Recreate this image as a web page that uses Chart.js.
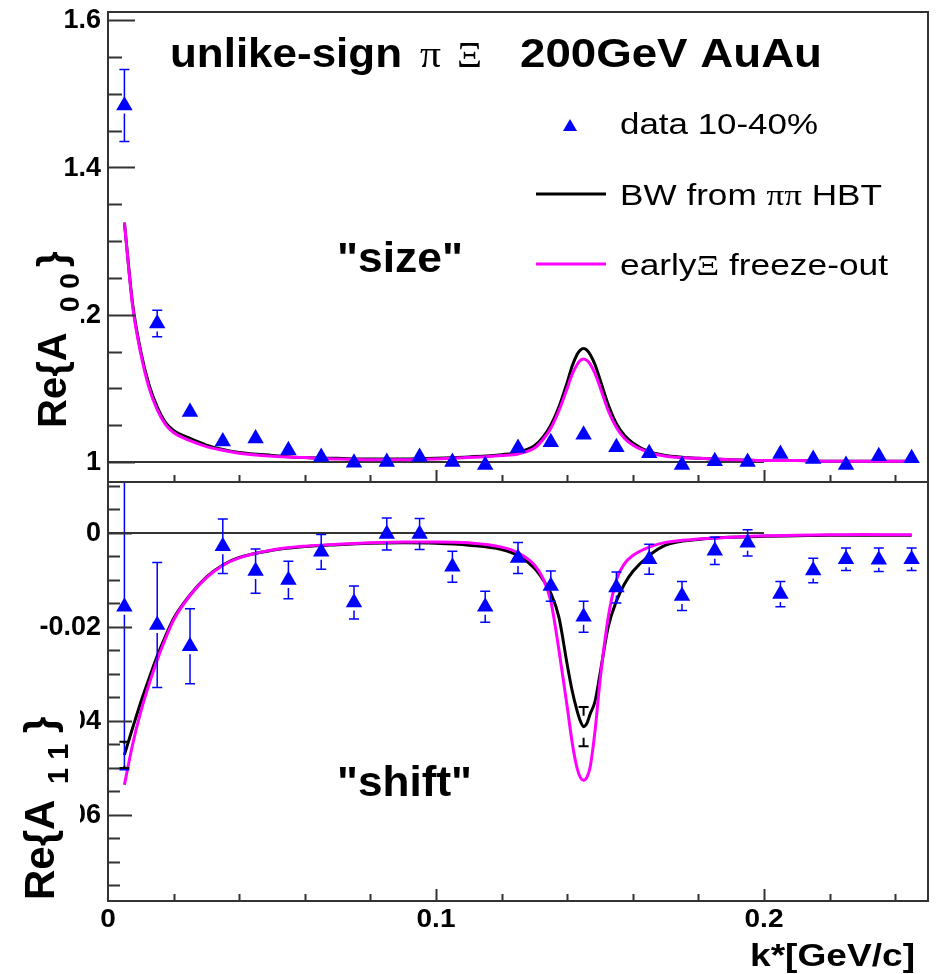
<!DOCTYPE html>
<html>
<head>
<meta charset="utf-8">
<script src="https://cdn.jsdelivr.net/npm/chart.js@4.4.1/dist/chart.umd.min.js"></script>
<style>
  body { margin: 0; background: #fff; }
  #wrap { position: relative; width: 938px; height: 974px; }
  #wrap canvas { position: absolute; left: 0; top: 0; }
</style>
</head>
<body>
<div id="wrap">
  <canvas id="top" width="938" height="974"></canvas>
  <canvas id="bottom" width="938" height="974"></canvas>
</div>
<script>
// Datos

// bins de k* (GeV/c)
const kData = [0.005, 0.015, 0.025, 0.035, 0.045, 0.055, 0.065, 0.075, 0.085, 0.095,
  0.105, 0.115, 0.125, 0.135, 0.145, 0.155, 0.165, 0.175, 0.185, 0.195,
  0.205, 0.215, 0.225, 0.235, 0.245];

// Re{A00} "size"
const a00Data = [1.484, 1.188, 1.068, 1.028, 1.032, 1.016, 1.007, 0.999, 1.000, 1.007,
  1.000, 0.996, 1.019, 1.027, 1.037, 1.020, 1.012, 0.996, 1.001, 1.000,
  1.011, 1.004, 0.996, 1.008, 1.005];
const a00Err = [0.049, 0.018, 0.006, 0.005, 0.005, 0.004, 0.004, 0.004, 0.004, 0.004,
  0.004, 0.004, 0.004, 0.004, 0.004, 0.004, 0.004, 0.004, 0.004, 0.004,
  0.004, 0.004, 0.004, 0.004, 0.004];

// Re{A11} "shift"
const a11Data = [-0.0157, -0.0196, -0.0241, -0.0028, -0.0081, -0.0100, -0.0040, -0.0148, -0.0002, -0.0002,
  -0.0072, -0.0157, -0.0053, -0.0113, -0.0178, -0.0116, -0.0056, -0.0134, -0.0038, -0.0021,
  -0.0130, -0.0080, -0.0056, -0.0057, -0.0056];
const a11Err = [0.0347, 0.0133, 0.0080, 0.0058, 0.0047, 0.0040, 0.0037, 0.0035, 0.0034, 0.0033,
  0.0033, 0.0033, 0.0033, 0.0032, 0.0033, 0.0033, 0.0032, 0.0031, 0.0029, 0.0028,
  0.0027, 0.0026, 0.0024, 0.0025, 0.0024];

// curvas del modelo
const kCurve = [0.005, 0.0075, 0.01, 0.0125, 0.015, 0.0175, 0.02, 0.025, 0.03, 0.035,
  0.04, 0.05, 0.06, 0.07, 0.08, 0.09, 0.1, 0.11, 0.12, 0.125,
  0.13, 0.1325, 0.135, 0.1375, 0.14, 0.1415, 0.143, 0.144, 0.145, 0.146,
  0.147, 0.1485, 0.15, 0.1525, 0.155, 0.1575, 0.16, 0.165, 0.17, 0.18,
  0.19, 0.2, 0.21, 0.22, 0.23, 0.245];

const a00Bw = [1.325, 1.215, 1.150, 1.105, 1.075, 1.054, 1.043, 1.032, 1.023, 1.017,
  1.013, 1.009, 1.006, 1.005, 1.004, 1.004, 1.005, 1.007, 1.010, 1.013,
  1.022, 1.033, 1.050, 1.075, 1.108, 1.130, 1.146, 1.152, 1.154, 1.152,
  1.146, 1.132, 1.112, 1.078, 1.052, 1.036, 1.026, 1.014, 1.009, 1.005,
  1.003, 1.002, 1.002, 1.001, 1.001, 1.001];
const a00Early = [1.325, 1.212, 1.147, 1.101, 1.071, 1.051, 1.040, 1.029, 1.021, 1.016,
  1.012, 1.008, 1.006, 1.004, 1.003, 1.003, 1.004, 1.006, 1.009, 1.011,
  1.019, 1.030, 1.046, 1.070, 1.100, 1.119, 1.132, 1.138, 1.140, 1.138,
  1.133, 1.120, 1.102, 1.070, 1.047, 1.032, 1.023, 1.013, 1.008, 1.005,
  1.003, 1.002, 1.002, 1.001, 1.001, 1.001];

const a11Bw = [-0.0472, -0.0415, -0.0360, -0.0310, -0.0262, -0.0220, -0.0182, -0.0132, -0.0094, -0.0068,
  -0.0052, -0.0037, -0.0029, -0.0025, -0.0022, -0.0021, -0.0022, -0.0026, -0.0035, -0.0048,
  -0.0075, -0.0098, -0.0128, -0.0180, -0.0280, -0.0335, -0.0378, -0.0400, -0.0412, -0.0405,
  -0.0385, -0.0358, -0.0300, -0.0200, -0.0145, -0.0108, -0.0082, -0.0048, -0.0026, -0.0014,
  -0.0009, -0.0007, -0.0006, -0.0005, -0.0005, -0.0005];
const a11Early = [-0.0536, -0.0450, -0.0380, -0.0322, -0.0270, -0.0225, -0.0185, -0.0133, -0.0095, -0.0069,
  -0.0053, -0.0036, -0.0028, -0.0024, -0.0021, -0.0019, -0.0019, -0.0021, -0.0030, -0.0042,
  -0.0068, -0.0095, -0.0145, -0.0250, -0.0370, -0.0445, -0.0500, -0.0520, -0.0526, -0.0520,
  -0.0498, -0.0420, -0.0315, -0.0180, -0.0100, -0.0065, -0.0048, -0.0030, -0.0020, -0.0013,
  -0.0009, -0.0006, -0.0005, -0.0004, -0.0003, -0.0004];

// barras de error de la curva BW (panel de abajo)
const bwErrK = [0.005, 0.145];
const bwErrY = [-0.0472, -0.0412];
const bwErr = [0.0028, 0.0042];

// linea de referencia
const refK = [0, 0.2];
const refTop = [1, 1];
const refBottom = [0, 0];

const labels = ['data 10-40%', 'BW from ππ HBT', 'earlyΞ freeze-out'];

// Helpers de texto
const SANS = '"Liberation Sans", Arial, sans-serif';
const SERIF = '"Liberation Serif", "Times New Roman", serif';

function runs(str) {
  const out = [];
  for (const c of str) {
    const g = /[\u0370-\u03ff]/.test(c);
    if (out.length && out[out.length - 1][1] === g) out[out.length - 1][0] += c;
    else out.push([c, g]);
  }
  return out;
}

function fontFor(greek, o) {
  if (greek) return (o.gsize || o.size) + 'px ' + SERIF;
  return (o.bold ? 'bold ' : '') + o.size + 'px ' + SANS;
}

// dibuja texto, estirado en horizontal (sx) o ajustado a un ancho
function drawStr(ctx, str, x, y, o) {
  const rs = runs(str);
  let w = 0;
  rs.forEach(r => { ctx.font = fontFor(r[1], o); w += ctx.measureText(r[0]).width; });
  const sx = o.width ? o.width / w : (o.sx || 1);
  const total = w * sx;
  let left = x;
  if (o.align === 'right') left = x - total;
  if (o.align === 'center') left = x - total / 2;
  ctx.save();
  ctx.translate(left, y);
  ctx.scale(sx, 1);
  ctx.fillStyle = o.color || '#000';
  ctx.textAlign = 'left';
  ctx.textBaseline = o.baseline || 'alphabetic';
  let p = 0;
  rs.forEach(r => {
    ctx.font = fontFor(r[1], o);
    ctx.fillText(r[0], p, 0);
    p += ctx.measureText(r[0]).width;
  });
  ctx.restore();
}

// titulo vertical tipo Re{A_sub}
function yTitle(ctx, t) {
  ctx.save();
  ctx.fillStyle = '#fff';
  ctx.fillRect(t.box[0], t.box[1], t.box[2], t.box[3]);
  ctx.fillStyle = '#000';
  ctx.textBaseline = 'alphabetic';
  ctx.textAlign = 'left';
  ctx.translate(t.x, 0);
  ctx.rotate(-Math.PI / 2);
  ctx.font = 'bold ' + t.size + 'px ' + SANS;
  ctx.fillText('Re{A', -t.y0, 0);
  ctx.font = 'bold ' + t.subSize + 'px ' + SANS;
  ctx.fillText(t.sub, -t.y1, t.drop);
  ctx.font = 'bold ' + t.size + 'px ' + SANS;
  ctx.fillText('}', -t.y2, 0);
  ctx.restore();
}

function fmt(v) {
  return parseFloat(v.toFixed(4)).toString();
}

// configuracion de cada panel
const panels = {
  top: {
    yMinor: 0.05, yRatio: 4, yMajorLen: 27, yMinorLen: 14,
    errors: [{ k: kData, y: a00Data, e: a00Err, color: '#0000ff', width: 1.5, gap: 8, cap: 5 }],
    xLabels: false,
    draw(ctx, chart) {
      yTitle(ctx, { x: 66, y0: 428, y1: 312, y2: 267, size: 40, subSize: 28, sub: '0 0', drop: 13,
        box: [28, 246, 53, 188] });
      drawStr(ctx, 'unlike-sign', 170, 67, { size: 40, bold: true, width: 232 });
      drawStr(ctx, 'π', 420, 67, { size: 36, gsize: 38, width: 21 });
      drawStr(ctx, 'Ξ', 457, 67, { size: 36, gsize: 36, width: 25 });
      drawStr(ctx, '200GeV AuAu', 520, 67, { size: 40, bold: true, width: 302 });
      drawStr(ctx, '"size"', 337, 272, { size: 43, bold: true, width: 126 });

      // leyenda
      const ds = chart.data.datasets;
      ctx.save();
      ctx.fillStyle = ds[0].backgroundColor;
      ctx.beginPath();
      ctx.moveTo(570, 119);
      ctx.lineTo(577, 131);
      ctx.lineTo(563, 131);
      ctx.closePath();
      ctx.fill();
      ctx.lineWidth = 3;
      ctx.strokeStyle = ds[2].borderColor;
      ctx.beginPath(); ctx.moveTo(536, 194); ctx.lineTo(606, 194); ctx.stroke();
      ctx.strokeStyle = ds[1].borderColor;
      ctx.beginPath(); ctx.moveTo(536, 264); ctx.lineTo(606, 264); ctx.stroke();
      ctx.restore();
      drawStr(ctx, ds[0].label, 620, 134, { size: 29, width: 198 });
      drawStr(ctx, ds[2].label, 620, 205, { size: 29, gsize: 29, width: 262 });
      drawStr(ctx, ds[1].label, 620, 275, { size: 29, gsize: 29, width: 268 });
    }
  },
  bottom: {
    yMinor: 0.005, yRatio: 4, yMajorLen: 24, yMinorLen: 12,
    errors: [
      { k: kData, y: a11Data, e: a11Err, color: '#0000ff', width: 1.5, gap: 8, cap: 5 },
      { k: bwErrK, y: bwErrY, e: bwErr, color: '#000', width: 2, gap: 11, cap: 5 }
    ],
    xLabels: true,
    draw(ctx, chart) {
      yTitle(ctx, { x: 54, y0: 900, y1: 784, y2: 733, size: 42, subSize: 29, sub: '1 1', drop: 14,
        box: [15, 708, 65, 197] });
      drawStr(ctx, '"shift"', 337, 796, { size: 43, bold: true, width: 135 });
      drawStr(ctx, 'k*[GeV/c]', 750, 966, { size: 31, bold: true, width: 165 });
    }
  }
};

const rootPad = {
  id: 'rootPad',
  afterDatasetsDraw(chart) {
    const p = panels[chart.canvas.id];
    const ctx = chart.ctx, xs = chart.scales.x, ys = chart.scales.y, a = chart.chartArea;
    ctx.save();
    ctx.beginPath();
    ctx.rect(a.left, a.top, a.right - a.left, a.bottom - a.top);
    ctx.clip();
    p.errors.forEach(set => {
      ctx.strokeStyle = set.color;
      ctx.lineWidth = set.width;
      set.k.forEach((k, i) => {
        const x = xs.getPixelForValue(k);
        const y = ys.getPixelForValue(set.y[i]);
        const hi = ys.getPixelForValue(set.y[i] + set.e[i]);
        const lo = ys.getPixelForValue(set.y[i] - set.e[i]);
        ctx.beginPath();
        if (y - hi > set.gap) {
          ctx.moveTo(x, y - set.gap); ctx.lineTo(x, hi);
          ctx.moveTo(x - set.cap, hi); ctx.lineTo(x + set.cap, hi);
        }
        if (lo - y > set.gap) {
          ctx.moveTo(x, y + set.gap); ctx.lineTo(x, lo);
          ctx.moveTo(x - set.cap, lo); ctx.lineTo(x + set.cap, lo);
        }
        ctx.stroke();
      });
    });
    ctx.restore();
  },
  afterDraw(chart) {
    const p = panels[chart.canvas.id];
    const ctx = chart.ctx, xs = chart.scales.x, ys = chart.scales.y, a = chart.chartArea;
    ctx.save();
    ctx.strokeStyle = '#333';
    ctx.lineWidth = 2;
    ctx.strokeRect(a.left, a.top, a.right - a.left, a.bottom - a.top);

    // ticks hacia adentro
    ctx.beginPath();
    const n0 = Math.ceil(ys.min / p.yMinor - 1e-6), n1 = Math.floor(ys.max / p.yMinor + 1e-6);
    for (let n = n0; n <= n1; n++) {
      const y = Math.round(ys.getPixelForValue(n * p.yMinor)) + 0.5;
      const len = (n % p.yRatio === 0) ? p.yMajorLen : p.yMinorLen;
      ctx.moveTo(a.left, y); ctx.lineTo(a.left + len, y);
    }
    for (let n = 1; n * 0.02 < xs.max; n++) {
      const x = Math.round(xs.getPixelForValue(n * 0.02)) + 0.5;
      const len = (n % 5 === 0) ? 12 : 7;
      ctx.moveTo(x, a.bottom); ctx.lineTo(x, a.bottom - len);
    }
    ctx.stroke();
    ctx.restore();

    // etiquetas de los ejes
    ys.ticks.forEach(t => {
      drawStr(ctx, fmt(t.value), a.left - 7, ys.getPixelForValue(t.value) + 1,
        { size: 27, bold: true, align: 'right', baseline: 'middle' });
    });
    if (p.xLabels) {
      xs.ticks.forEach(t => {
        drawStr(ctx, fmt(t.value), xs.getPixelForValue(t.value), 927,
          { size: 25, bold: true, sx: 1.12, align: 'center' });
      });
    }
    p.draw(ctx, chart);
  }
};

const pts = (xs, ys) => xs.map((x, i) => ({ x: x, y: ys[i] }));

function makePanel(id, cfg) {
  return new Chart(document.getElementById(id), {
    type: 'line',
    data: {
      datasets: [
        { label: labels[0], data: pts(kData, cfg.data), showLine: false, pointStyle: 'triangle',
          pointRadius: 9.5, backgroundColor: '#0000ff', borderColor: '#0000ff', borderWidth: 0 },
        { label: labels[2], data: pts(kCurve, cfg.early), borderColor: '#ff00ff', borderWidth: 3,
          pointRadius: 0, cubicInterpolationMode: 'monotone', fill: false },
        { label: labels[1], data: pts(kCurve, cfg.bw), borderColor: '#000000', borderWidth: 3,
          pointRadius: 0, cubicInterpolationMode: 'monotone', fill: false },
        { label: 'ref', data: pts(refK, cfg.ref), borderColor: '#333333', borderWidth: 2,
          pointRadius: 0, fill: false }
      ]
    },
    options: {
      responsive: false,
      animation: false,
      devicePixelRatio: 1,
      events: [],
      layout: { padding: cfg.padding },
      plugins: { legend: { display: false }, tooltip: { enabled: false } },
      scales: {
        x: {
          type: 'linear', min: 0, max: 0.25,
          ticks: { display: false, stepSize: 0.1, includeBounds: false },
          grid: { display: false }, border: { display: false },
          afterFit: s => { s.height = cfg.xHeight; s.paddingLeft = 0; s.paddingRight = 0; }
        },
        y: {
          type: 'linear', min: cfg.yMin, max: cfg.yMax,
          ticks: { display: false, stepSize: cfg.yStep, includeBounds: false },
          grid: { display: false }, border: { display: false },
          afterFit: s => { s.width = 108; s.paddingTop = 0; s.paddingBottom = 0; }
        }
      }
    },
    plugins: [rootPad]
  });
}

makePanel('top', {
  data: a00Data, early: a00Early, bw: a00Bw, ref: refTop,
  yMin: 0.9729, yMax: 1.6109, yStep: 0.2, xHeight: 0,
  padding: { left: 0, right: 10, top: 12, bottom: 492 }
});

makePanel('bottom', {
  data: a11Data, early: a11Early, bw: a11Bw, ref: refBottom,
  yMin: -0.0783, yMax: 0.01085, yStep: 0.02, xHeight: 73,
  padding: { left: 0, right: 10, top: 482, bottom: 0 }
});
</script>
</body>
</html>
